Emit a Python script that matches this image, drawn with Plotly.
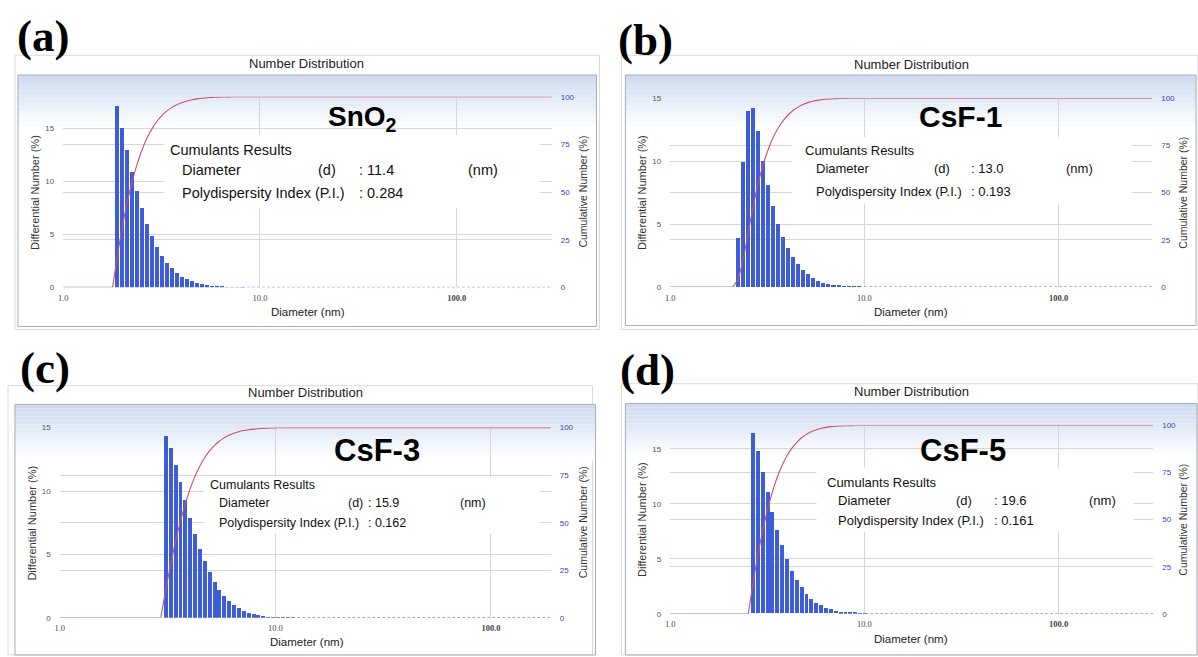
import numpy as np
import plotly.graph_objects as go

W, H = 1198, 657

# ---------------- data: number distributions (bin diameter in nm, differential number %) ----------------
diam_a = [1.888, 2.001, 2.121, 2.248, 2.383, 2.526, 2.678, 2.839, 3.009, 3.190, 3.381, 3.584, 3.799,
          4.027, 4.269, 4.525, 4.797, 5.085, 5.390, 5.713, 6.053, 6.418, 6.803, 7.211, 7.644, 8.103]
num_a = [17.17, 15.03, 12.98, 10.91, 9.08, 7.50, 6.01, 4.83, 3.84, 3.00, 2.32, 1.83, 1.39,
         1.05, 0.81, 0.62, 0.46, 0.34, 0.25, 0.19, 0.12, 0.09, 0.06, 0.04, 0.03, 0.02]

diam_b = [2.228, 2.366, 2.512, 2.667, 2.831, 3.006, 3.192, 3.388, 3.597, 3.819, 4.055, 4.305, 4.571,
          4.853, 5.152, 5.470, 5.808, 6.166, 6.546, 6.950, 7.379, 7.834, 8.318, 8.831, 9.376]
num_b = [3.90, 9.90, 14.00, 14.24, 12.36, 10.03, 8.09, 6.44, 5.03, 3.93, 3.06, 2.36, 1.81,
         1.36, 0.99, 0.71, 0.50, 0.34, 0.24, 0.16, 0.10, 0.07, 0.05, 0.03, 0.02]

diam_c = [3.097, 3.263, 3.437, 3.621, 3.815, 4.018, 4.233, 4.460, 4.698, 4.949, 5.212, 5.490, 5.784,
          6.093, 6.419, 6.761, 7.123, 7.504, 7.904, 8.327, 8.770, 9.239, 9.732, 10.25, 10.80, 11.38, 11.98]
num_c = [14.35, 13.39, 12.11, 10.71, 9.33, 7.93, 6.63, 5.43, 4.52, 3.61, 2.83, 2.26, 1.77,
         1.38, 1.07, 0.81, 0.60, 0.44, 0.31, 0.23, 0.18, 0.13, 0.10, 0.07, 0.05, 0.03, 0.02]

diam_d = [2.673, 2.832, 3.001, 3.180, 3.368, 3.569, 3.781, 4.006, 4.245, 4.497, 4.764, 5.048,
          5.348, 5.666, 6.003, 6.360, 6.739, 7.139, 7.564, 8.014, 8.492, 8.997, 9.532, 10.10]
num_d = [16.43, 14.73, 12.88, 11.02, 9.26, 7.62, 6.18, 4.93, 3.88, 3.05, 2.36, 1.79,
         1.34, 0.99, 0.72, 0.51, 0.36, 0.24, 0.15, 0.09, 0.06, 0.04, 0.03, 0.02]

sample_names = ["SnO<sub>2</sub>", "CsF-1", "CsF-3", "CsF-5"]
panel_letters = ["(a)", "(b)", "(c)", "(d)"]
z_average = ["11.4", "13.0", "15.9", "19.6"]
pdi_values = ["0.284", "0.193", "0.162", "0.161"]

x_tickvals = [1, 10, 100]
x_ticktext = ["1.0", "10.0", "<b>100.0</b>"]
left_ticks = [0, 5, 10, 15]
right_ticks = [0, 25, 50, 75, 100]

# ---------------- layout of each panel (pixel geometry) ----------------
layout_cfg = [
    dict(plot=(58.5, 94, 549, 287.3), xmax_log=2.483, ymax=18,
         outer=(10, 52, 597, 330), inner=(13, 72, 594, 327), title=(303, 60),
         letter=(38, 32), box=(160, 133, 537, 207), label=(359, 116), label_size=28,
         res=(164, 148), rows=(168, 192), ind=176, col_d=312, col_v=353, col_nm=463, res_size=14.5,
         ytitle_l=30, ytitle_r=580, xtitle=(304, 312)),
    dict(plot=(668, 95.5, 1152, 287), xmax_log=2.482, ymax=15,
         outer=(619, 52, 1198, 330), inner=(623, 72, 1196, 326), title=(910, 61),
         letter=(643, 36), box=(790, 135, 1132, 203), label=(960, 114), label_size=30,
         res=(801, 149), rows=(167, 190), ind=812, col_d=931, col_v=968, col_nm=1063, res_size=13,
         ytitle_l=639, ytitle_r=1183, xtitle=(910, 312)),
    dict(plot=(55, 429.5, 548, 622.3), xmax_log=2.277, ymax=15,
         outer=(3, 387, 590, 660), inner=(10, 406, 593, 660), title=(302, 394),
         letter=(40, 369), box=(200, 479, 537, 537), label=(374, 453), label_size=31,
         res=(204, 488), rows=(506, 526), ind=213, col_d=342, col_v=363, col_nm=455, res_size=12.5,
         ytitle_l=27, ytitle_r=580, xtitle=(303, 647)),
    dict(plot=(668, 427.3, 1153, 618.3), xmax_log=2.487, ymax=17.13,
         outer=(619, 385, 1198, 660), inner=(623, 405, 1197, 660), title=(910, 393),
         letter=(645, 371), box=(815, 470, 1133, 535), label=(962, 453), label_size=31,
         res=(823, 485), rows=(503, 524), ind=834, col_d=953, col_v=991, col_nm=1087, res_size=13,
         ytitle_l=639, ytitle_r=1183, xtitle=(910, 644)),
]

series = [(diam_a, num_a), (diam_b, num_b), (diam_c, num_c), (diam_d, num_d)]

BAR_BLUE = "#3c5dd7"
CUM_RED = "#cf4d6e"
GRID = "#d6d6d6"
SANS = "Liberation Sans"


def fx(x):
    return x / W


def fy(y):
    return 1 - y / H


fig = go.Figure()
shapes = []
annotations = []

for i, ((diam, num), cfg) in enumerate(zip(series, layout_cfg)):
    diam = np.asarray(diam, dtype=float)
    num = np.asarray(num, dtype=float)
    step = float(np.median(np.diff(np.log10(diam))))
    ratio = 10 ** step
    widths = diam * (10 ** (0.4 * step) - 10 ** (-0.4 * step))
    x_max = 10 ** cfg["xmax_log"]

    xa = "x" if i == 0 else f"x{i + 1}"
    ya_l = "y" if i == 0 else f"y{2 * i + 1}"
    ya_r = f"y{2 * i + 2}"

    # differential number bars
    fig.add_trace(go.Bar(x=diam, y=num, width=widths, marker=dict(color=BAR_BLUE, line=dict(width=0)),
                         xaxis=xa, yaxis=ya_l, showlegend=False))
    # zero baseline of the differential curve
    fig.add_trace(go.Scatter(x=[1.0, diam[0] / ratio], y=[0, 0], mode="lines",
                             line=dict(color="#8190c2", width=1.2), xaxis=xa, yaxis=ya_l,
                             showlegend=False, cliponaxis=False))
    fig.add_trace(go.Scatter(x=[diam[-1], x_max], y=[0, 0], mode="lines",
                             line=dict(color="#5468cc", width=1, dash="3px,2px"), xaxis=xa, yaxis=ya_l,
                             showlegend=False, cliponaxis=False))
    # cumulative number curve
    cum = np.cumsum(num) / num.sum() * 100
    cx = np.concatenate([[diam[0] / ratio], diam, [x_max]])
    cy = np.concatenate([[0.0], cum, [100.0]])
    fig.add_trace(go.Scatter(x=cx, y=cy, mode="lines",
                             line=dict(color=CUM_RED, width=1.1, shape="spline", smoothing=0.6),
                             xaxis=xa, yaxis=ya_r, showlegend=False, cliponaxis=False))

    x0, y0, x1, y1 = cfg["plot"]
    axis_font = dict(family=SANS, size=8, color="#555555")
    key_x = "xaxis" if i == 0 else f"xaxis{i + 1}"
    key_yl = "yaxis" if i == 0 else f"yaxis{2 * i + 1}"
    key_yr = f"yaxis{2 * i + 2}"
    fig.layout[key_x] = dict(type="log", domain=[fx(x0), fx(x1)], range=[0, cfg["xmax_log"]],
                             anchor=ya_l, tickvals=x_tickvals, ticktext=x_ticktext, ticks="",
                             tickfont=dict(family="Liberation Serif", size=8.5, color="#444444"),
                             ticklabelstandoff=4, showgrid=True, gridcolor=GRID, gridwidth=1,
                             showline=False, zeroline=False)
    fig.layout[key_yl] = dict(domain=[fy(y1), fy(y0)], range=[0, cfg["ymax"]], anchor=xa,
                              tickvals=left_ticks, ticks="", tickfont=axis_font, ticklabelstandoff=8,
                              showgrid=True, gridcolor=GRID, gridwidth=1, zeroline=False, showline=False)
    fig.layout[key_yr] = dict(overlaying=ya_l, side="right", anchor=xa, range=[0, 100],
                              tickvals=right_ticks, ticks="", ticklabelstandoff=8,
                              tickfont=dict(family=SANS, size=8, color="#3a3ac8"),
                              showgrid=True, gridcolor=GRID, gridwidth=1, zeroline=False, showline=False)

    # outer frame and inner chart panel
    ox0, oy0, ox1, oy1 = cfg["outer"]
    shapes.append(dict(type="rect", xref="paper", yref="paper", x0=fx(ox0), x1=fx(ox1), y0=fy(oy1), y1=fy(oy0),
                       line=dict(color="#dadada", width=1), fillcolor="white", layer="below"))
    ix0, iy0, ix1, iy1 = cfg["inner"]
    n_strips = 14
    for k in range(n_strips):
        t = k / (n_strips - 1)
        r = int(round(206 + (255 - 206) * t))
        g = int(round(219 + (255 - 219) * t))
        b = int(round(241 + (255 - 241) * t))
        sy0 = iy0 + k * 4
        shapes.append(dict(type="rect", xref="paper", yref="paper", x0=fx(ix0), x1=fx(ix1),
                           y0=fy(sy0 + 4), y1=fy(sy0), line=dict(width=0),
                           fillcolor=f"rgb({r},{g},{b})", layer="below"))
    shapes.append(dict(type="rect", xref="paper", yref="paper", x0=fx(ix0), x1=fx(ix1), y0=fy(iy1), y1=fy(iy0),
                       line=dict(color="#a8adb6", width=1), fillcolor="rgba(0,0,0,0)", layer="below"))

    # white results box
    bx0, by0, bx1, by1 = cfg["box"]
    shapes.append(dict(type="rect", xref="paper", yref="paper", x0=fx(bx0), x1=fx(bx1), y0=fy(by1), y1=fy(by0),
                       line=dict(width=0), fillcolor="white", layer="above"))

    def txt(text, x, y, size, color="#111111", family=SANS, xanchor="left", angle=0):
        annotations.append(dict(text=text, x=fx(x), y=fy(y), xref="paper", yref="paper", showarrow=False,
                                xanchor=xanchor, yanchor="middle", textangle=angle,
                                font=dict(family=family, size=size, color=color)))

    txt("Number Distribution", cfg["title"][0], cfg["title"][1], 13, "#222222", xanchor="center")
    txt(f"<b>{panel_letters[i]}</b>", cfg["letter"][0], cfg["letter"][1], 45, "#000000",
        family="Liberation Serif", xanchor="center")
    txt(f"<b>{sample_names[i]}</b>", cfg["label"][0], cfg["label"][1], cfg["label_size"], "#000000",
        family="Liberation Sans", xanchor="center")
    rs = cfg["res_size"]
    txt("Cumulants Results", cfg["res"][0], cfg["res"][1], rs)
    txt("Diameter", cfg["ind"], cfg["rows"][0], rs)
    txt("(d)", cfg["col_d"], cfg["rows"][0], rs)
    txt(f": {z_average[i]}", cfg["col_v"], cfg["rows"][0], rs)
    txt("(nm)", cfg["col_nm"], cfg["rows"][0], rs)
    txt("Polydispersity Index (P.I.)", cfg["ind"], cfg["rows"][1], rs)
    txt(f": {pdi_values[i]}", cfg["col_v"], cfg["rows"][1], rs)
    ymid = (y0 + y1) / 2
    txt("Differential Number (%)", cfg["ytitle_l"], ymid, 11, "#333333", xanchor="center", angle=-90)
    txt("Cumulative Number (%)", cfg["ytitle_r"], ymid, 10.5, "#333333", xanchor="center", angle=-90)
    txt("Diameter (nm)", cfg["xtitle"][0], cfg["xtitle"][1], 11.5, "#222222", xanchor="center")

fig.update_layout(width=W, height=H, margin=dict(l=0, r=0, t=0, b=0), paper_bgcolor="white",
                  plot_bgcolor="rgba(0,0,0,0)", bargap=0, showlegend=False,
                  shapes=shapes, annotations=annotations)

fig.write_html("out.html")
